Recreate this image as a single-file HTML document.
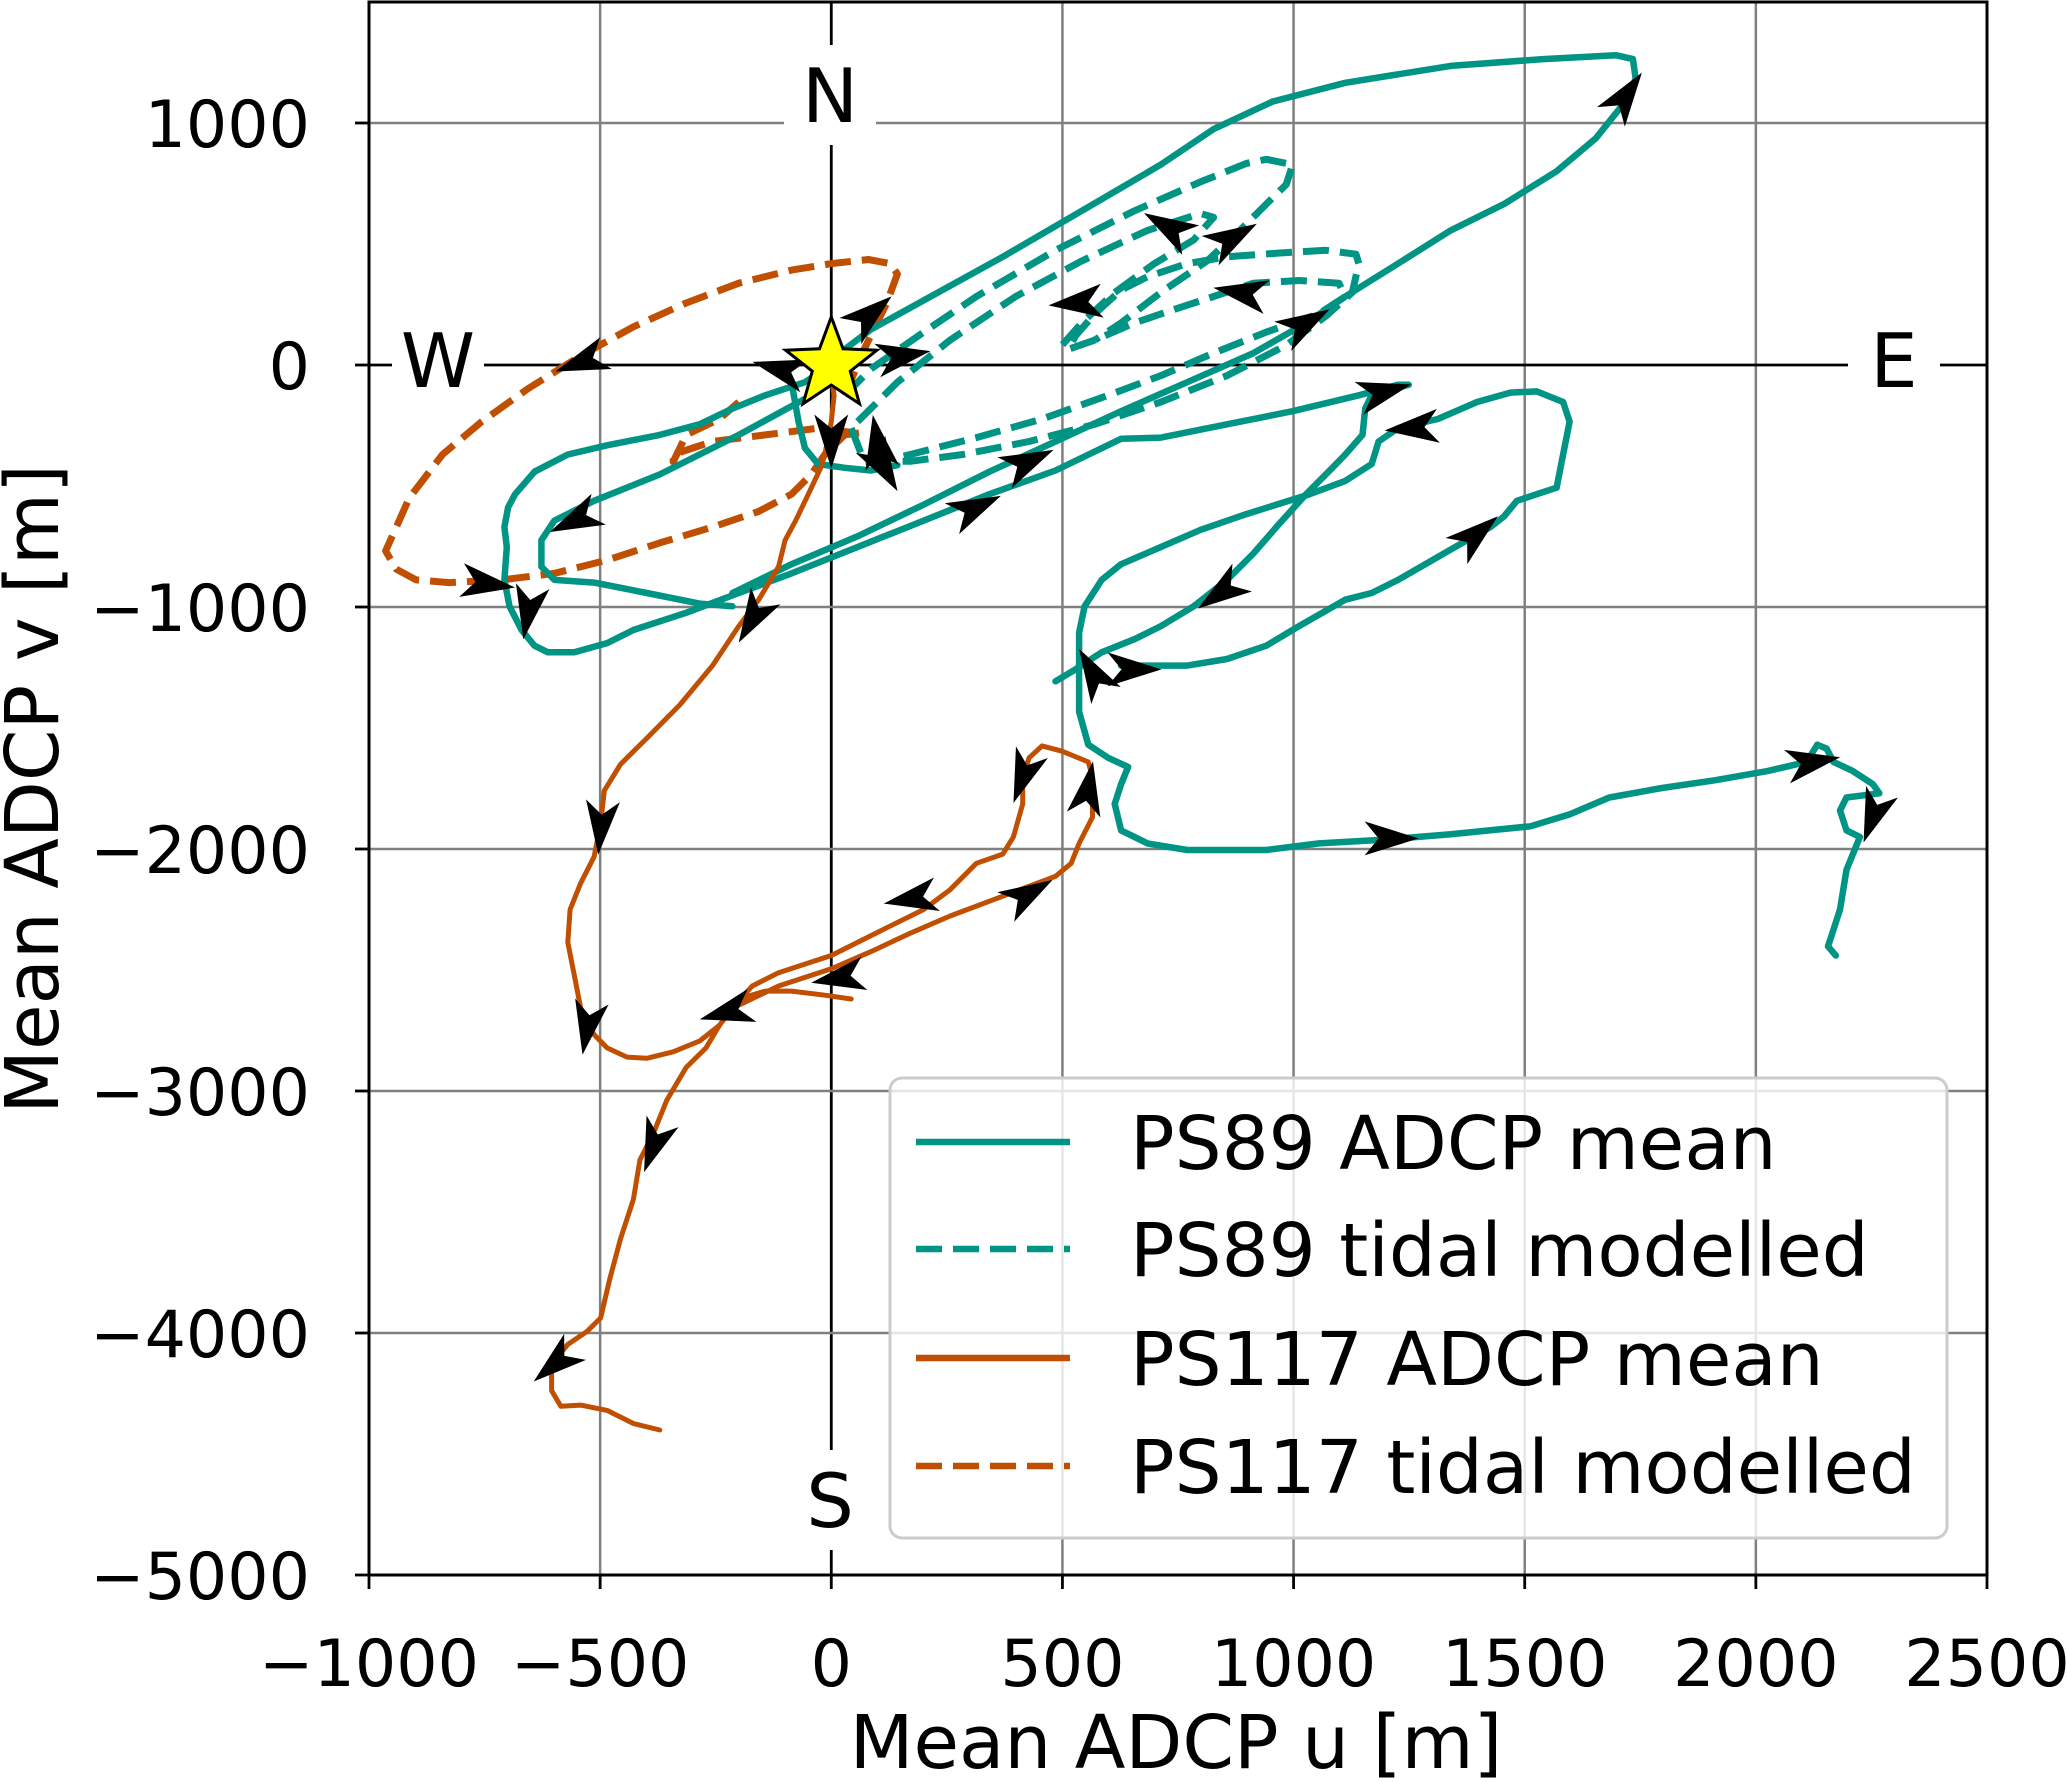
<!DOCTYPE html>
<html><head><meta charset="utf-8">
<style>
html,body{margin:0;padding:0;background:#fff;}
svg{display:block;font-family:"DejaVu Sans","Liberation Sans",sans-serif;}
</style></head>
<body>
<svg id="chart" width="2067" height="1782" viewBox="0 0 2067 1782" xmlns="http://www.w3.org/2000/svg">
<defs><clipPath id="plotclip"><rect x="369" y="2" width="1618" height="1573"/></clipPath></defs>
<rect x="0" y="0" width="2067" height="1782" fill="#fff"/>
<g id="grid"></g>
<g id="series" clip-path="url(#plotclip)"></g>
<g id="labels"></g>
<g id="axes"></g>
<g id="legend"></g>
<text x="1176" y="1768" font-size="74" text-anchor="middle">Mean ADCP u [m]</text>
<text x="0" y="0" font-size="74" text-anchor="middle" transform="translate(58,789) rotate(-90)">Mean ADCP v [m]</text>
</svg>
<script>
const xTicks = [-1000,-500,0,500,1000,1500,2000,2500];
const yTicks = [1000,0,-1000,-2000,-3000,-4000,-5000];
const xTickLabels = ["\u22121000","\u2212500","0","500","1000","1500","2000","2500"];
const yTickLabels = ["1000","0","\u22121000","\u22122000","\u22123000","\u22124000","\u22125000"];

// PS89 ADCP mean (u,v in m), several segments
const ps89MeanU = [
 [0,-57,-143,-214,-285,-371,-485,-570,-642,-684,-699,-707,-702,-707,-696,-670,-642,-613,-556,-485,-428,-314,-200,-86,57,200,342,485,627,713,856,998,1141,1226,1249,1169,1155,1149,1112,1084,1027,970,913,856,784,713,656,585,528,485],
 [-43,-200,-371,-513,-599,-627,-627,-599,-513,-399,-285,-214],
 [0,29,86,200,371,542,713,827,955,1112,1340,1540,1697,1734,1740,1711,1654,1569,1455,1340,1226,1112,1027,913,770,627,485,342,200,57,-86,-214],
 [-86,-71,-57,-29,29,86,143],
 [627,684,770,856,941,1012,1112,1169,1226,1340,1426,1455,1483,1526,1569,1583,1597,1583,1526,1469,1397,1312,1226,1184,1169,1112,1027,898,799,713,627,585,548,536,536,536,556,599,642,627,613,627,684,770,941,1055,1198,1340,1512,1597,1683,1797,1911,2025,2110,2133,2153,2168,2210,2253,2267,2196,2182,2196,2225,2196,2182,2162,2156,2173]
];
const ps89MeanV = [
 [0,-71,-125,-180,-245,-289,-332,-370,-441,-534,-588,-670,-752,-888,-997,-1095,-1160,-1187,-1187,-1149,-1095,-1024,-942,-861,-752,-643,-534,-436,-305,-300,-245,-191,-125,-82,-82,-125,-180,-289,-370,-425,-534,-654,-779,-888,-997,-1079,-1133,-1187,-1258,-1307],
 [-125,-289,-452,-561,-643,-724,-833,-888,-899,-942,-986,-997],
 [0,65,147,267,447,637,828,975,1089,1166,1236,1264,1280,1264,1182,1073,937,801,665,556,419,283,174,49,-71,-191,-316,-441,-577,-708,-823,-942],
 [-71,-234,-343,-409,-425,-436,-414],
 [-1242,-1242,-1242,-1215,-1160,-1079,-970,-942,-888,-763,-670,-626,-561,-534,-507,-370,-234,-153,-109,-114,-153,-223,-261,-316,-409,-479,-539,-616,-681,-752,-823,-888,-997,-1106,-1242,-1433,-1569,-1623,-1661,-1732,-1814,-1923,-1977,-2004,-2004,-1977,-1961,-1939,-1906,-1857,-1787,-1748,-1716,-1678,-1640,-1569,-1585,-1640,-1678,-1732,-1770,-1787,-1841,-1923,-1950,-2086,-2250,-2369,-2402,-2440]
];
// PS89 tidal modelled
const ps89TideU = [
 [43,71,171,285,428,570,713,856,984,1070,1127,1141,1135,1070,970,856,770,684,627,570,528,513,570,656,741,827,913,1012,1098,1112,1055,941,827,713,599,456,314,171,86],
 [29,86,200,314,485,656,799,898,941,998,984,941,884,813,713,627,570],
 [57,143,257,399,542,684,799,827,784,699,613,542,499]
];
const ps89TideV = [
 [-261,-398,-398,-370,-316,-245,-153,-44,82,202,300,419,458,474,463,447,419,365,310,212,120,65,103,174,229,283,338,349,338,283,212,136,49,-44,-125,-223,-300,-370,-409],
 [-125,-16,136,283,474,637,757,833,850,828,746,665,556,430,300,174,103],
 [-234,-71,103,283,430,556,626,610,517,419,300,174,82]
];
// PS117 ADCP mean
const ps117MeanU = [
 [0,6,0,-14,-23,-43,-77,-100,-114,-157,-200,-257,-328,-399,-456,-491,-499,-513,-542,-565,-570,-556,-542,-513,-485,-442,-399,-342,-285,-242,-214,-171,-114,0,114,200,257,314,371,394,414,414,428,456,499,556,565,565,536,519,485,371,257,171,86,0,-114,-214],
 [-200,-143,-86,-14,43],
 [-242,-271,-314,-356,-385,-414,-428,-456,-479,-499,-528,-570,-605,-605,-585,-542,-485,-428,-371]
];
const ps117MeanV = [
 [-44,-125,-234,-370,-425,-507,-643,-724,-833,-970,-1079,-1242,-1405,-1542,-1650,-1759,-1896,-2032,-2141,-2250,-2386,-2522,-2658,-2767,-2822,-2860,-2865,-2838,-2794,-2729,-2658,-2566,-2511,-2440,-2331,-2250,-2168,-2059,-2021,-1950,-1814,-1705,-1623,-1574,-1596,-1640,-1705,-1868,-1977,-2059,-2113,-2195,-2277,-2348,-2424,-2495,-2566,-2658],
 [-2620,-2587,-2587,-2604,-2620],
 [-2729,-2822,-2903,-3039,-3176,-3285,-3448,-3611,-3775,-3938,-3993,-4047,-4129,-4238,-4303,-4298,-4320,-4374,-4401]
];
// PS117 tidal modelled
const ps117TideU = [
 [29,71,120,143,128,80,0,-86,-200,-314,-428,-542,-656,-756,-841,-913,-941,-964,-941,-898,-827,-713,-599,-485,-371,-257,-157,-86,-43,-14,29,71],
 [43,-29,-143,-257,-342,-342,-314,-242,-200]
];
const ps117TideV = [
 [-125,65,256,376,419,436,419,392,338,256,158,38,-98,-234,-370,-550,-670,-768,-844,-888,-899,-888,-861,-806,-735,-670,-605,-534,-452,-370,-289,-278],
 [-278,-261,-289,-316,-370,-400,-289,-223,-153]
];
// Direction arrows: position (u,v) and heading in screen degrees
const arrowU = [1720,86,-114,157,-542,-556,-742,-656,-171,-499,-528,-385,-599,-228,14,171,428,414,556,2125,2253,1212,565,656,841,1397,1198,1255,314,428,114,0,100,1027,884,727,870,528];
const arrowV = [1117,212,-16,38,11,-643,-904,-1024,-1051,-1912,-2740,-3230,-4129,-2675,-2533,-2206,-2184,-1705,-1748,-1640,-1868,-1956,-1269,-1258,-942,-697,-109,-261,-588,-398,-425,-316,-316,174,300,572,528,256];
const arrowDir = [-55,-40,-165,-10,160,155,8,100,120,95,100,110,140,165,170,170,-30,110,-80,-10,110,0,-120,0,145,-40,-15,175,-25,-25,60,90,-100,-30,-170,-150,-30,175];
const legendLabels = ["PS89 ADCP mean","PS89 tidal modelled","PS117 ADCP mean","PS117 tidal modelled"];

const NS="http://www.w3.org/2000/svg";
const X0=369,X1=1987,Y0=2,Y1=1575, UMIN=-1000,UMAX=2500,VMIN=-5000,VMAX=1500;
function sx(u){return X0+(u-UMIN)/(UMAX-UMIN)*(X1-X0);}
function sy(v){return Y1-(v-VMIN)/(VMAX-VMIN)*(Y1-Y0);}
function mk(tag,attrs,parent){const e=document.createElementNS(NS,tag);for(const k in attrs)e.setAttribute(k,attrs[k]);parent.appendChild(e);return e;}

const grid=document.getElementById('grid');
xTicks.forEach((t,i)=>{
 const l=mk('line',{x1:sx(t),x2:sx(t),y1:Y0,y2:Y1,stroke:t===0?'#000':'#808080','stroke-width':t===0?2.8:2.5},grid);
 
 
});
yTicks.forEach((t,i)=>{
 const l=mk('line',{x1:X0,x2:X1,y1:sy(t),y2:sy(t),stroke:t===0?'#000':'#808080','stroke-width':t===0?2.8:2.5},grid);
 
 
});

const series=document.getElementById('series');
const TEAL='#009485', ORANGE='#c04f02';
function drawSeries(U,V,color,width,dash,name){
 for(let s=0;s<U.length;s++){
  let d='';
  for(let i=0;i<U[s].length;i++) d+=(i?'L':'M')+sx(U[s][i]).toFixed(1)+' '+sy(V[s][i]).toFixed(1);
  const p=mk('path',{d:d,fill:'none',stroke:color,'stroke-width':width,'stroke-linejoin':'round','stroke-linecap':dash?'butt':'round'},series);
  if(dash)p.setAttribute('stroke-dasharray',dash);
  
  
 }
}
drawSeries(ps117TideU,ps117TideV,ORANGE,7,'26 11','ps117-tidal-line');
drawSeries(ps89TideU,ps89TideV,TEAL,7,'26 11','ps89-tidal-line');
drawSeries(ps89MeanU,ps89MeanV,TEAL,6.5,null,'ps89-mean-line');
drawSeries(ps117MeanU,ps117MeanV,ORANGE,5,null,'ps117-mean-line');

arrowU.forEach((u,i)=>{
 const a=mk('polygon',{points:'27,0 -27,-17 -13,0 -27,17',fill:'#000',transform:'translate('+sx(u).toFixed(1)+','+sy(arrowV[i]).toFixed(1)+') rotate('+arrowDir[i]+')'},series);
 
 
});

// star at origin
(function(){
 const cx=sx(0),cy=sy(0),R=48,r=20;let pts=[];
 for(let k=0;k<10;k++){const ang=-Math.PI/2+k*Math.PI/5;const rr=k%2?r:R;pts.push((cx+rr*Math.cos(ang)).toFixed(1)+','+(cy+rr*Math.sin(ang)).toFixed(1));}
 const st=mk('polygon',{points:pts.join(' '),fill:'#ffff00',stroke:'#000','stroke-width':3,'stroke-linejoin':'miter'},series);
 
 
})();

// compass labels
const labels=document.getElementById('labels');
[['N',830,95,'north-label'],['W',438,360,'west-label'],['E',1894,360,'east-label'],['S',830,1500,'south-label']].forEach(c=>{
 const b=mk('rect',{x:c[1]-46,y:c[2]-50,width:92,height:100,fill:'#fff'},labels);
 
 
 const t=mk('text',{x:c[1],y:c[2]+27,'font-size':75,'text-anchor':'middle',fill:'#000'},labels);
 t.textContent=c[0];
 
 
});

// axes
const axes=document.getElementById('axes');
const fr=mk('rect',{x:X0,y:Y0,width:X1-X0,height:Y1-Y0,fill:'none',stroke:'#000','stroke-width':3},axes);


xTicks.forEach((t,i)=>{
 const tk=mk('line',{x1:sx(t),x2:sx(t),y1:Y1,y2:Y1+14,stroke:'#000','stroke-width':2.8},axes);
 
 
 const tx=mk('text',{x:sx(t),y:1686,'font-size':65,'text-anchor':'middle'},axes);
 tx.textContent=xTickLabels[i];
 
 
});
yTicks.forEach((t,i)=>{
 const tk=mk('line',{x1:X0-14,x2:X0,y1:sy(t),y2:sy(t),stroke:'#000','stroke-width':2.8},axes);
 
 
 const tx=mk('text',{x:310,y:sy(t)+24,'font-size':65,'text-anchor':'end'},axes);
 tx.textContent=yTickLabels[i];
 
 
});

// legend
const lg=document.getElementById('legend');
const box=mk('rect',{x:890,y:1078,width:1057,height:460,rx:12,fill:'#fff','fill-opacity':0.8,stroke:'#cccccc','stroke-width':3},lg);


const lgColors=[TEAL,TEAL,ORANGE,ORANGE], lgDash=[null,'26 11',null,'26 11'], lgRowY=[1142,1249,1358,1466];
legendLabels.forEach((s,i)=>{
 const ln=mk('line',{x1:916,x2:1070,y1:lgRowY[i],y2:lgRowY[i],stroke:lgColors[i],'stroke-width':6.5},lg);
 if(lgDash[i])ln.setAttribute('stroke-dasharray',lgDash[i]);
 
 
 const t=mk('text',{x:1130,y:lgRowY[i]+27,'font-size':74},lg);
 t.textContent=s;
 
 
});
</script>
</body></html>
